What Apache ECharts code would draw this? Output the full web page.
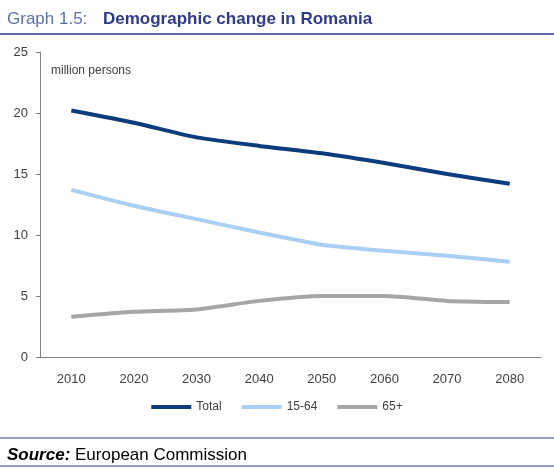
<!DOCTYPE html><html><head><meta charset="utf-8"><script src="https://cdn.jsdelivr.net/npm/echarts@6/dist/echarts.min.js"></script>
<style>body{margin:0}#c{width:554px;height:468px}</style></head><body><div id="c"></div><script>
const years=['2010','2020','2030','2040','2050','2060','2070','2080'];
const total=[20.2,19.2,18.0,17.3,16.7,15.9,15.0,14.2];
const working=[13.7,12.4,11.3,10.2,9.2,8.7,8.3,7.8];
const elderly=[3.3,3.7,3.9,4.6,5.0,5.0,4.6,4.5];
const c=echarts.init(document.getElementById('c'));
const f='Liberation Sans';
c.setOption({
animation:false,
title:[{text:'Graph 1.5:',left:2,top:6,textStyle:{fontFamily:f,fontSize:17,fontWeight:'normal',color:'#5b6fa8'}},
{text:'Demographic change in Romania',left:98,top:6,textStyle:{fontFamily:f,fontSize:17,fontWeight:'bold',color:'#2e3a8c'}},
{text:'million persons',left:46,top:60,textStyle:{fontFamily:f,fontSize:12,fontWeight:'normal',color:'#404040'}},
{text:'{b|Source:} European Commission',left:2,top:442,textStyle:{fontFamily:f,fontSize:17,fontWeight:'normal',color:'#000',rich:{b:{fontFamily:f,fontSize:17,fontWeight:'bold',fontStyle:'italic'}}}}],
graphic:[{type:'line',shape:{x1:0,y1:34,x2:554,y2:34},style:{stroke:'#2e3a8c',lineWidth:1.5}},
{type:'line',shape:{x1:0,y1:438,x2:554,y2:438},style:{stroke:'#2e3a8c',lineWidth:1}},
{type:'line',shape:{x1:0,y1:466,x2:554,y2:466},style:{stroke:'#2e3a8c',lineWidth:1}}],
grid:{left:40,right:13,top:52,bottom:111},
legend:{bottom:50,left:'center',itemWidth:40,itemHeight:4,itemGap:20,icon:'rect',textStyle:{fontFamily:f,fontSize:12,color:'#404040'}},
xAxis:{type:'category',data:years,axisLine:{lineStyle:{color:'#808080'}},axisTick:{show:false},axisLabel:{fontFamily:f,fontSize:13,color:'#404040',margin:16}},
yAxis:{type:'value',min:0,max:25,interval:5,splitLine:{show:false},axisLine:{show:true,lineStyle:{color:'#808080'}},axisTick:{show:true,length:4,lineStyle:{color:'#808080'}},axisLabel:{fontFamily:f,fontSize:13,color:'#404040',margin:12}},
series:[{name:'Total',type:'line',data:total,smooth:0.2,symbol:'none',lineStyle:{width:4,color:'#0c3c7c'},itemStyle:{color:'#0c3c7c'}},
{name:'15-64',type:'line',data:working,smooth:0.2,symbol:'none',lineStyle:{width:4,color:'#a9cff2'},itemStyle:{color:'#a9cff2'}},
{name:'65+',type:'line',data:elderly,smooth:0.2,symbol:'none',lineStyle:{width:4,color:'#a6a6a6'},itemStyle:{color:'#a6a6a6'}}]
});
</script></body></html>
